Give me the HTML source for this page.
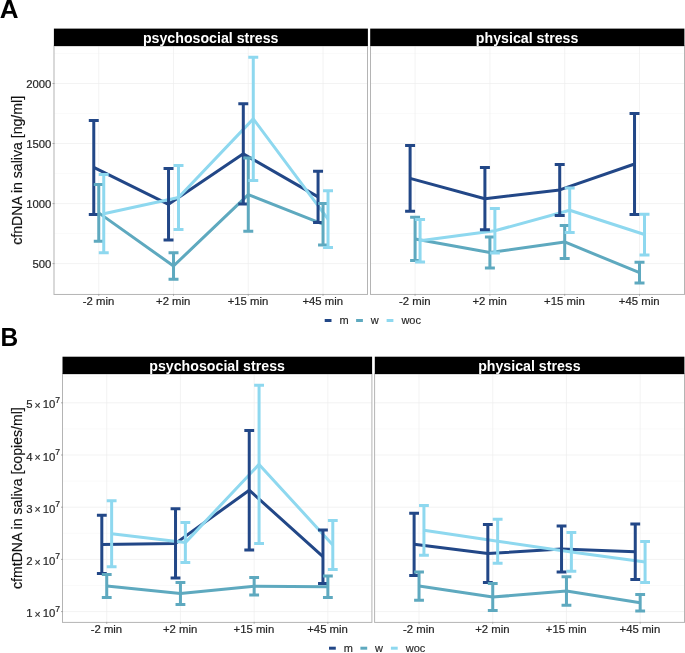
<!DOCTYPE html>
<html lang="en">
<head>
<meta charset="utf-8">
<title>cfDNA in saliva under stress</title>
<style>
html,body{margin:0;padding:0;background:#fff;}
body{width:685px;height:653px;overflow:hidden;font-family:"Liberation Sans",Arial,Helvetica,sans-serif;}
svg{display:block;}
</style>
</head>
<body>
<svg width="685" height="653" viewBox="0 0 685 653" font-family="'Liberation Sans', Arial, Helvetica, sans-serif">
<rect width="685" height="653" fill="#fff"/>
<g>
<rect x="53.9" y="46" width="314" height="248.1" fill="#fff"/>
<g stroke="#f5f5f5" stroke-width="0.5">
<line x1="53.9" x2="367.9" y1="53.5" y2="53.5"/>
<line x1="53.9" x2="367.9" y1="113.5" y2="113.5"/>
<line x1="53.9" x2="367.9" y1="173.5" y2="173.5"/>
<line x1="53.9" x2="367.9" y1="233.5" y2="233.5"/>
</g>
<g stroke="#eeeeee" stroke-width="0.7">
<line x1="53.9" x2="367.9" y1="83.5" y2="83.5"/>
<line x1="53.9" x2="367.9" y1="143.5" y2="143.5"/>
<line x1="53.9" x2="367.9" y1="203.6" y2="203.6"/>
<line x1="53.9" x2="367.9" y1="263.6" y2="263.6"/>
<line x1="98.76" x2="98.76" y1="46" y2="294.1"/>
<line x1="173.52" x2="173.52" y1="46" y2="294.1"/>
<line x1="248.28" x2="248.28" y1="46" y2="294.1"/>
<line x1="323.04" x2="323.04" y1="46" y2="294.1"/>
</g>
<g fill="none" stroke-width="3.0" stroke-linejoin="round" stroke-linecap="butt">
<polyline points="93.77,167.45 168.53,204.35 243.3,153.85 318.06,196.85" stroke="#224787"/>
<polyline points="98.76,212.85 173.52,266 248.28,194.6 323.04,224.15" stroke="#5ea9bf"/>
<polyline points="103.74,213.7 178.5,197.5 253.27,118.85 328.03,219.15" stroke="#8ed8ef"/>
</g>
<g fill="none" stroke-width="3.0" stroke-linecap="butt">
<path d="M88.79 120.5H98.76M93.77 120.5V214.4M88.79 214.4H98.76M163.55 168.6H173.52M168.53 168.6V240.1M163.55 240.1H173.52M238.31 103.8H248.28M243.3 103.8V203.9M238.31 203.9H248.28M313.07 171.3H323.04M318.06 171.3V222.4M313.07 222.4H323.04" stroke="#224787"/>
<path d="M93.77 184.4H103.74M98.76 184.4V241.3M93.77 241.3H103.74M168.53 252.7H178.5M173.52 252.7V279.3M168.53 279.3H178.5M243.3 158H253.27M248.28 158V231.2M243.3 231.2H253.27M318.06 203.4H328.03M323.04 203.4V244.9M318.06 244.9H328.03" stroke="#5ea9bf"/>
<path d="M98.76 174.6H108.73M103.74 174.6V252.8M98.76 252.8H108.73M173.52 165.5H183.49M178.5 165.5V229.5M173.52 229.5H183.49M248.28 57.3H258.25M253.27 57.3V180.4M248.28 180.4H258.25M323.04 190.8H333.01M328.03 190.8V247.5M323.04 247.5H333.01" stroke="#8ed8ef"/>
</g>
<rect x="54" y="46" width="313.5" height="248.45" fill="none" stroke="#b4b4b4" stroke-width="1"/>
<rect x="53.9" y="28.6" width="314" height="17.4" fill="#000"/>
<text x="210.7" y="42.75" font-size="14.2" font-weight="bold" fill="#fff" text-anchor="middle">psychosocial stress</text>
<g stroke="#9a9a9a" stroke-width="0.8">
<line x1="98.76" x2="98.76" y1="293.95" y2="295.85"/>
<line x1="173.52" x2="173.52" y1="293.95" y2="295.85"/>
<line x1="248.28" x2="248.28" y1="293.95" y2="295.85"/>
<line x1="323.04" x2="323.04" y1="293.95" y2="295.85"/>
</g>
<g font-size="11.35" fill="#262626" stroke="#262626" stroke-width="0.2" text-anchor="middle">
<text x="98.46" y="304.7">-2 min</text>
<text x="173.22" y="304.7">+2 min</text>
<text x="247.98" y="304.7">+15 min</text>
<text x="322.74" y="304.7">+45 min</text>
</g>
</g>
<g>
<rect x="370.2" y="46" width="314.2" height="248.1" fill="#fff"/>
<g stroke="#f5f5f5" stroke-width="0.5">
<line x1="370.2" x2="684.4" y1="53.5" y2="53.5"/>
<line x1="370.2" x2="684.4" y1="113.5" y2="113.5"/>
<line x1="370.2" x2="684.4" y1="173.5" y2="173.5"/>
<line x1="370.2" x2="684.4" y1="233.5" y2="233.5"/>
</g>
<g stroke="#eeeeee" stroke-width="0.7">
<line x1="370.2" x2="684.4" y1="83.5" y2="83.5"/>
<line x1="370.2" x2="684.4" y1="143.5" y2="143.5"/>
<line x1="370.2" x2="684.4" y1="203.6" y2="203.6"/>
<line x1="370.2" x2="684.4" y1="263.6" y2="263.6"/>
<line x1="415.09" x2="415.09" y1="46" y2="294.1"/>
<line x1="489.9" x2="489.9" y1="46" y2="294.1"/>
<line x1="564.7" x2="564.7" y1="46" y2="294.1"/>
<line x1="639.51" x2="639.51" y1="46" y2="294.1"/>
</g>
<g fill="none" stroke-width="3.0" stroke-linejoin="round" stroke-linecap="butt">
<polyline points="410.1,178.35 484.91,198.7 559.72,189.95 634.53,164" stroke="#224787"/>
<polyline points="415.09,238.9 489.9,252.5 564.7,241.95 639.51,272.65" stroke="#5ea9bf"/>
<polyline points="420.07,240.8 494.88,230.8 569.69,210.25 644.5,234.55" stroke="#8ed8ef"/>
</g>
<g fill="none" stroke-width="3.0" stroke-linecap="butt">
<path d="M405.11 145.4H415.09M410.1 145.4V211.3M405.11 211.3H415.09M479.92 167.6H489.9M484.91 167.6V229.8M479.92 229.8H489.9M554.73 164.5H564.7M559.72 164.5V215.4M554.73 215.4H564.7M629.54 113.4H639.51M634.53 113.4V214.6M629.54 214.6H639.51" stroke="#224787"/>
<path d="M410.1 217.3H420.07M415.09 217.3V260.5M410.1 260.5H420.07M484.91 237H494.88M489.9 237V268M484.91 268H494.88M559.72 225.4H569.69M564.7 225.4V258.5M559.72 258.5H569.69M634.53 262.3H644.5M639.51 262.3V283M634.53 283H644.5" stroke="#5ea9bf"/>
<path d="M415.09 219.5H425.06M420.07 219.5V262.1M415.09 262.1H425.06M489.9 208.5H499.87M494.88 208.5V253.1M489.9 253.1H499.87M564.7 188.1H574.68M569.69 188.1V232.4M564.7 232.4H574.68M639.51 214.2H649.49M644.5 214.2V254.9M639.51 254.9H649.49" stroke="#8ed8ef"/>
</g>
<rect x="370.5" y="46" width="314" height="248.45" fill="none" stroke="#b4b4b4" stroke-width="1"/>
<rect x="370.2" y="28.6" width="314.2" height="17.4" fill="#000"/>
<text x="527.1" y="42.75" font-size="14.2" font-weight="bold" fill="#fff" text-anchor="middle">physical stress</text>
<g stroke="#9a9a9a" stroke-width="0.8">
<line x1="415.09" x2="415.09" y1="293.95" y2="295.85"/>
<line x1="489.9" x2="489.9" y1="293.95" y2="295.85"/>
<line x1="564.7" x2="564.7" y1="293.95" y2="295.85"/>
<line x1="639.51" x2="639.51" y1="293.95" y2="295.85"/>
</g>
<g font-size="11.35" fill="#262626" stroke="#262626" stroke-width="0.2" text-anchor="middle">
<text x="414.79" y="304.7">-2 min</text>
<text x="489.6" y="304.7">+2 min</text>
<text x="564.4" y="304.7">+15 min</text>
<text x="639.21" y="304.7">+45 min</text>
</g>
</g>
<g stroke="#9a9a9a" stroke-width="0.8">
<line x1="52.5" x2="54.5" y1="83.5" y2="83.5"/>
<line x1="52.5" x2="54.5" y1="143.5" y2="143.5"/>
<line x1="52.5" x2="54.5" y1="203.6" y2="203.6"/>
<line x1="52.5" x2="54.5" y1="263.6" y2="263.6"/>
</g>
<g font-size="11.35" fill="#262626" stroke="#262626" stroke-width="0.2" text-anchor="end">
<text x="51.4" y="87.5">2000</text>
<text x="51.4" y="147.5">1500</text>
<text x="51.4" y="207.6">1000</text>
<text x="51.4" y="267.6">500</text>
</g>
<text transform="translate(22.1 170.35) rotate(-90)" font-size="14.1" fill="#111" stroke="#111" stroke-width="0.15" text-anchor="middle">cfnDNA in saliva [ng/ml]</text>
<text x="-0.3" y="18" font-size="26" font-weight="bold" fill="#000">A</text>
<g stroke-width="3.0">
<line x1="324.7" x2="331.5" y1="320.5" y2="320.5" stroke="#224787"/>
<line x1="356.1" x2="362.9" y1="320.5" y2="320.5" stroke="#5ea9bf"/>
<line x1="386.6" x2="393.4" y1="320.5" y2="320.5" stroke="#8ed8ef"/>
</g>
<g font-size="11" fill="#262626" stroke="#262626" stroke-width="0.15">
<text x="339.5" y="324">m</text>
<text x="370.7" y="324">w</text>
<text x="401.4" y="324">woc</text>
</g>
<g>
<rect x="62.5" y="374" width="309.6" height="248.2" fill="#fff"/>
<g stroke="#f5f5f5" stroke-width="0.5">
<line x1="62.5" x2="372.1" y1="376.7" y2="376.7"/>
<line x1="62.5" x2="372.1" y1="428.9" y2="428.9"/>
<line x1="62.5" x2="372.1" y1="481.1" y2="481.1"/>
<line x1="62.5" x2="372.1" y1="533.3" y2="533.3"/>
<line x1="62.5" x2="372.1" y1="585.5" y2="585.5"/>
</g>
<g stroke="#eeeeee" stroke-width="0.7">
<line x1="62.5" x2="372.1" y1="402.8" y2="402.8"/>
<line x1="62.5" x2="372.1" y1="455" y2="455"/>
<line x1="62.5" x2="372.1" y1="507.2" y2="507.2"/>
<line x1="62.5" x2="372.1" y1="559.4" y2="559.4"/>
<line x1="62.5" x2="372.1" y1="611.6" y2="611.6"/>
<line x1="106.73" x2="106.73" y1="374" y2="622.2"/>
<line x1="180.44" x2="180.44" y1="374" y2="622.2"/>
<line x1="254.16" x2="254.16" y1="374" y2="622.2"/>
<line x1="327.87" x2="327.87" y1="374" y2="622.2"/>
</g>
<g fill="none" stroke-width="3.0" stroke-linejoin="round" stroke-linecap="butt">
<polyline points="101.81,544.4 175.53,543.4 249.24,490.2 322.96,556.7" stroke="#224787"/>
<polyline points="106.73,585.95 180.44,593.6 254.16,586.25 327.87,586.8" stroke="#5ea9bf"/>
<polyline points="111.64,533.7 185.36,542.6 259.07,464.4 332.79,544.95" stroke="#8ed8ef"/>
</g>
<g fill="none" stroke-width="3.0" stroke-linecap="butt">
<path d="M96.9 515.2H106.73M101.81 515.2V573.6M96.9 573.6H106.73M170.61 508.8H180.44M175.53 508.8V578M170.61 578H180.44M244.33 430.5H254.16M249.24 430.5V549.9M244.33 549.9H254.16M318.04 529.9H327.87M322.96 529.9V583.5M318.04 583.5H327.87" stroke="#224787"/>
<path d="M101.81 574.5H111.64M106.73 574.5V597.4M101.81 597.4H111.64M175.53 582.6H185.36M180.44 582.6V604.6M175.53 604.6H185.36M249.24 577.4H259.07M254.16 577.4V595.1M249.24 595.1H259.07M322.96 576.1H332.79M327.87 576.1V597.5M322.96 597.5H332.79" stroke="#5ea9bf"/>
<path d="M106.73 500.7H116.56M111.64 500.7V566.7M106.73 566.7H116.56M180.44 522.6H190.27M185.36 522.6V562.6M180.44 562.6H190.27M254.16 385.3H263.99M259.07 385.3V543.5M254.16 543.5H263.99M327.87 520.5H337.7M332.79 520.5V569.4M327.87 569.4H337.7" stroke="#8ed8ef"/>
</g>
<rect x="62.5" y="374" width="309.4" height="248.4" fill="none" stroke="#b4b4b4" stroke-width="1"/>
<rect x="62.5" y="356.7" width="309.6" height="17.3" fill="#000"/>
<text x="217.1" y="370.75" font-size="14.2" font-weight="bold" fill="#fff" text-anchor="middle">psychosocial stress</text>
<g stroke="#9a9a9a" stroke-width="0.8">
<line x1="106.73" x2="106.73" y1="621.9" y2="623.8"/>
<line x1="180.44" x2="180.44" y1="621.9" y2="623.8"/>
<line x1="254.16" x2="254.16" y1="621.9" y2="623.8"/>
<line x1="327.87" x2="327.87" y1="621.9" y2="623.8"/>
</g>
<g font-size="11.35" fill="#262626" stroke="#262626" stroke-width="0.2" text-anchor="middle">
<text x="106.43" y="632.6">-2 min</text>
<text x="180.14" y="632.6">+2 min</text>
<text x="253.86" y="632.6">+15 min</text>
<text x="327.57" y="632.6">+45 min</text>
</g>
</g>
<g>
<rect x="374.8" y="374" width="309.6" height="248.2" fill="#fff"/>
<g stroke="#f5f5f5" stroke-width="0.5">
<line x1="374.8" x2="684.4" y1="376.7" y2="376.7"/>
<line x1="374.8" x2="684.4" y1="428.9" y2="428.9"/>
<line x1="374.8" x2="684.4" y1="481.1" y2="481.1"/>
<line x1="374.8" x2="684.4" y1="533.3" y2="533.3"/>
<line x1="374.8" x2="684.4" y1="585.5" y2="585.5"/>
</g>
<g stroke="#eeeeee" stroke-width="0.7">
<line x1="374.8" x2="684.4" y1="402.8" y2="402.8"/>
<line x1="374.8" x2="684.4" y1="455" y2="455"/>
<line x1="374.8" x2="684.4" y1="507.2" y2="507.2"/>
<line x1="374.8" x2="684.4" y1="559.4" y2="559.4"/>
<line x1="374.8" x2="684.4" y1="611.6" y2="611.6"/>
<line x1="419.03" x2="419.03" y1="374" y2="622.2"/>
<line x1="492.74" x2="492.74" y1="374" y2="622.2"/>
<line x1="566.46" x2="566.46" y1="374" y2="622.2"/>
<line x1="640.17" x2="640.17" y1="374" y2="622.2"/>
</g>
<g fill="none" stroke-width="3.0" stroke-linejoin="round" stroke-linecap="butt">
<polyline points="414.11,544.35 487.83,553.55 561.54,549.05 635.26,551.65" stroke="#224787"/>
<polyline points="419.03,586.1 492.74,597.05 566.46,590.95 640.17,602.85" stroke="#5ea9bf"/>
<polyline points="423.94,530.35 497.66,541.25 571.37,551.95 645.09,562" stroke="#8ed8ef"/>
</g>
<g fill="none" stroke-width="3.0" stroke-linecap="butt">
<path d="M409.2 513.2H419.03M414.11 513.2V575.5M409.2 575.5H419.03M482.91 524.5H492.74M487.83 524.5V582.6M482.91 582.6H492.74M556.63 526.1H566.46M561.54 526.1V572M556.63 572H566.46M630.34 523.9H640.17M635.26 523.9V579.4M630.34 579.4H640.17" stroke="#224787"/>
<path d="M414.11 572H423.94M419.03 572V600.2M414.11 600.2H423.94M487.83 583.5H497.66M492.74 583.5V610.6M487.83 610.6H497.66M561.54 576.7H571.37M566.46 576.7V605.2M561.54 605.2H571.37M635.26 594.6H645.09M640.17 594.6V611.1M635.26 611.1H645.09" stroke="#5ea9bf"/>
<path d="M419.03 505.4H428.86M423.94 505.4V555.3M419.03 555.3H428.86M492.74 519.2H502.57M497.66 519.2V563.3M492.74 563.3H502.57M566.46 532.6H576.29M571.37 532.6V571.3M566.46 571.3H576.29M640.17 541.4H650M645.09 541.4V582.6M640.17 582.6H650" stroke="#8ed8ef"/>
</g>
<rect x="374.6" y="374" width="309.9" height="248.4" fill="none" stroke="#b4b4b4" stroke-width="1"/>
<rect x="374.8" y="356.7" width="309.6" height="17.3" fill="#000"/>
<text x="529.4" y="370.75" font-size="14.2" font-weight="bold" fill="#fff" text-anchor="middle">physical stress</text>
<g stroke="#9a9a9a" stroke-width="0.8">
<line x1="419.03" x2="419.03" y1="621.9" y2="623.8"/>
<line x1="492.74" x2="492.74" y1="621.9" y2="623.8"/>
<line x1="566.46" x2="566.46" y1="621.9" y2="623.8"/>
<line x1="640.17" x2="640.17" y1="621.9" y2="623.8"/>
</g>
<g font-size="11.35" fill="#262626" stroke="#262626" stroke-width="0.2" text-anchor="middle">
<text x="418.73" y="632.6">-2 min</text>
<text x="492.44" y="632.6">+2 min</text>
<text x="566.16" y="632.6">+15 min</text>
<text x="639.87" y="632.6">+45 min</text>
</g>
</g>
<g stroke="#9a9a9a" stroke-width="0.8">
<line x1="61" x2="63" y1="402.8" y2="402.8"/>
<line x1="61" x2="63" y1="455" y2="455"/>
<line x1="61" x2="63" y1="507.2" y2="507.2"/>
<line x1="61" x2="63" y1="559.4" y2="559.4"/>
<line x1="61" x2="63" y1="611.6" y2="611.6"/>
</g>
<g font-size="11.35" fill="#262626" stroke="#262626" stroke-width="0.2">
<text y="408.3"><tspan x="26.2">5</tspan><tspan x="34.6" dy="0.6" font-size="10.4">×</tspan><tspan x="42.7" dy="-0.6" font-size="11.35">10</tspan><tspan x="55.3" dy="-5.6" font-size="8.6">7</tspan></text>
<text y="460.5"><tspan x="26.2">4</tspan><tspan x="34.6" dy="0.6" font-size="10.4">×</tspan><tspan x="42.7" dy="-0.6" font-size="11.35">10</tspan><tspan x="55.3" dy="-5.6" font-size="8.6">7</tspan></text>
<text y="512.7"><tspan x="26.2">3</tspan><tspan x="34.6" dy="0.6" font-size="10.4">×</tspan><tspan x="42.7" dy="-0.6" font-size="11.35">10</tspan><tspan x="55.3" dy="-5.6" font-size="8.6">7</tspan></text>
<text y="564.9"><tspan x="26.2">2</tspan><tspan x="34.6" dy="0.6" font-size="10.4">×</tspan><tspan x="42.7" dy="-0.6" font-size="11.35">10</tspan><tspan x="55.3" dy="-5.6" font-size="8.6">7</tspan></text>
<text y="617.1"><tspan x="26.2">1</tspan><tspan x="34.6" dy="0.6" font-size="10.4">×</tspan><tspan x="42.7" dy="-0.6" font-size="11.35">10</tspan><tspan x="55.3" dy="-5.6" font-size="8.6">7</tspan></text>
</g>
<text transform="translate(22.1 498.1) rotate(-90)" font-size="14.1" fill="#111" stroke="#111" stroke-width="0.15" text-anchor="middle">cfmtDNA in saliva [copies/ml]</text>
<text transform="translate(0.4 345.7) scale(0.95 1)" font-size="25.8" font-weight="bold" fill="#000">B</text>
<g stroke-width="3.0">
<line x1="329" x2="335.8" y1="648.2" y2="648.2" stroke="#224787"/>
<line x1="360.4" x2="367.2" y1="648.2" y2="648.2" stroke="#5ea9bf"/>
<line x1="390.9" x2="397.7" y1="648.2" y2="648.2" stroke="#8ed8ef"/>
</g>
<g font-size="11" fill="#262626" stroke="#262626" stroke-width="0.15">
<text x="343.8" y="651.7">m</text>
<text x="375" y="651.7">w</text>
<text x="405.7" y="651.7">woc</text>
</g>
</svg>
</body>
</html>
